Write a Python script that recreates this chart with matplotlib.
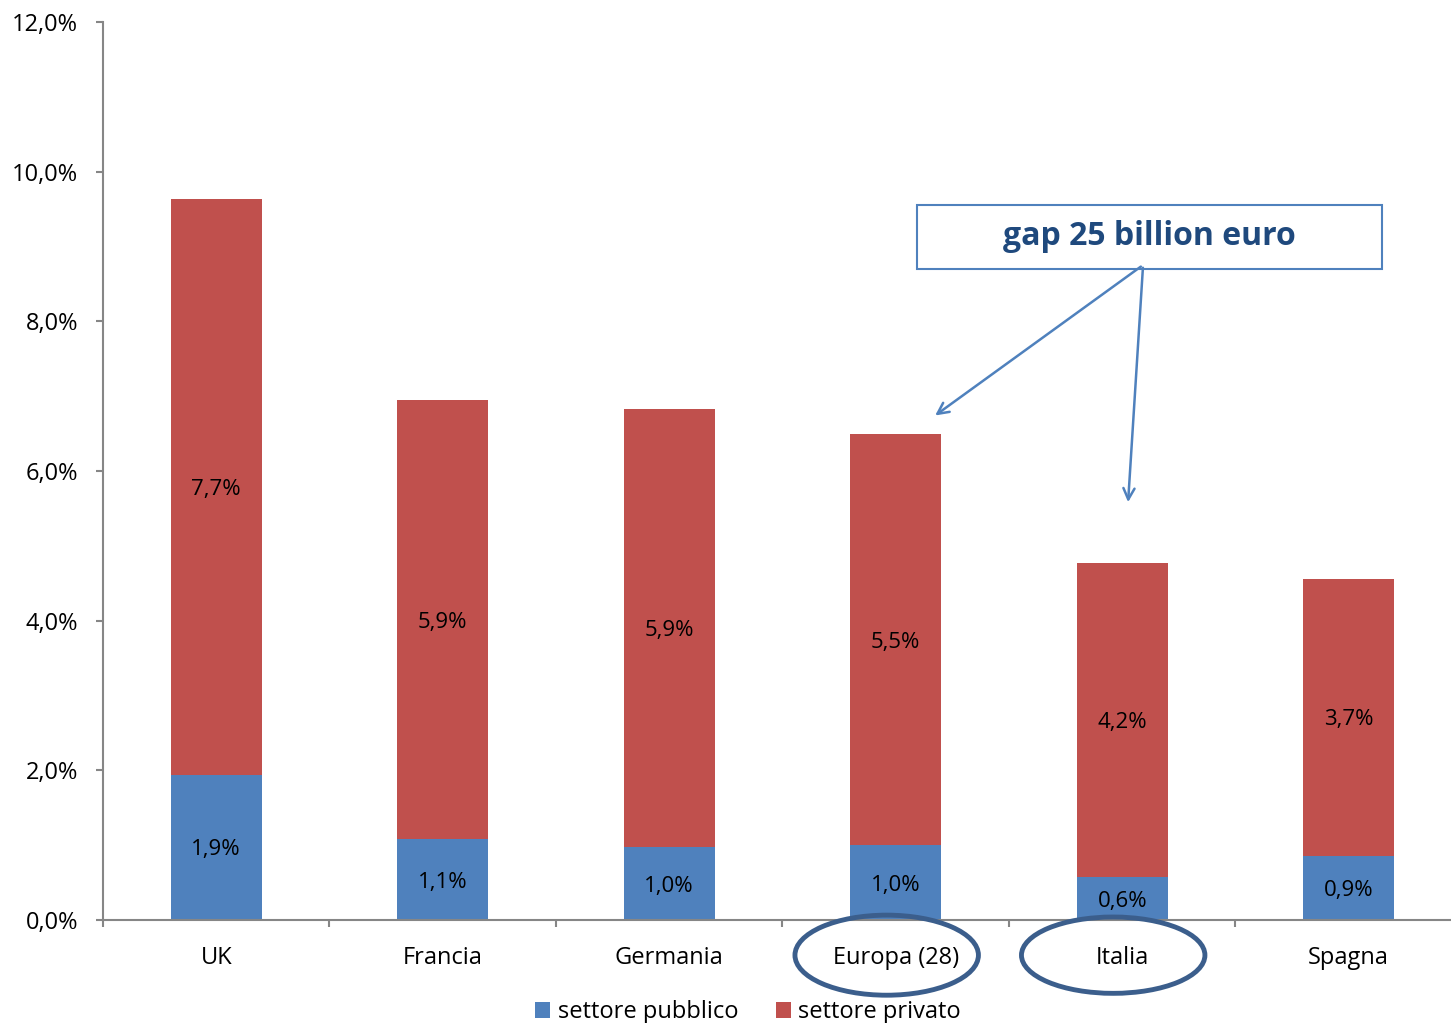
import matplotlib.pyplot as plt
from matplotlib.patches import Ellipse, Rectangle

plt.rcParams['font.family'] = ['Open Sans', 'DejaVu Sans']

paesi = ["UK", "Francia", "Germania", "Europa (28)", "Italia", "Spagna"]
pubblico = [1.94, 1.08, 0.97, 1.0, 0.57, 0.86]
privato = [7.69, 5.87, 5.86, 5.49, 4.2, 3.7]
etichette_pub = ["1,9%", "1,1%", "1,0%", "1,0%", "0,6%", "0,9%"]
etichette_priv = ["7,7%", "5,9%", "5,9%", "5,5%", "4,2%", "3,7%"]

blu = "#4F81BD"
rosso = "#C0504D"
grigio = "#868686"

fig = plt.figure(figsize=(14.51, 10.23), dpi=100)
ax = fig.add_axes([103 / 1451, 1 - 920 / 1023, 1359 / 1451, 898 / 1023])

x = range(len(paesi))
ax.bar(x, pubblico, width=0.4, color=blu, label="settore pubblico")
ax.bar(x, privato, width=0.4, bottom=pubblico, color=rosso, label="settore privato")

# etichette dentro le barre
for i in x:
    ax.text(i, pubblico[i] / 2, etichette_pub[i], ha="center",
            va="center_baseline", fontsize=16)
    ax.text(i, pubblico[i] + privato[i] / 2, etichette_priv[i], ha="center",
            va="center_baseline", fontsize=16)

ax.set_xlim(-0.5, 5.5)
ax.set_ylim(0, 12)
ax.set_yticks(range(0, 13, 2))
ax.set_yticklabels([f"{v},0%" for v in range(0, 13, 2)], fontsize=17)
ax.set_xticks([i - 0.5 for i in x])
ax.set_xticklabels([])
ax.set_xticks(list(x), minor=True)
ax.set_xticklabels(paesi, minor=True, fontsize=17)
ax.tick_params(axis="x", which="minor", length=0, pad=19)
ax.tick_params(axis="x", which="major", length=5, color=grigio, width=1.5)
ax.tick_params(axis="y", length=5, color=grigio, width=1.5, pad=13)
for s in ["top", "right"]:
    ax.spines[s].set_visible(False)
for s in ["left", "bottom"]:
    ax.spines[s].set_color(grigio)
    ax.spines[s].set_linewidth(1.5)

# cerchi su Europa e Italia
for cx, w, h in [(2.96, 0.81, 1.07), (3.96, 0.81, 1.02)]:
    ax.add_patch(Ellipse((cx, -0.47), w, h, fill=False, edgecolor="#3B5E8C",
                         linewidth=3.5, clip_on=False, zorder=5))

# box e frecce
ax.add_patch(Rectangle((3.094, 8.70), 2.053, 0.855, fill=False, edgecolor=blu,
                       linewidth=1.5, clip_on=False))
ax.text(4.12, 9.13, "gap 25 billion euro", ha="center", va="center",
        fontsize=23, fontweight="bold", color="#1F497D")
for tx, ty in [(3.164, 6.72), (4.025, 5.546)]:
    ax.annotate("", xy=(tx, ty), xytext=(4.092, 8.753),
                arrowprops=dict(arrowstyle="->,head_length=0.8,head_width=0.4",
                                color=blu, lw=1.8))

fig.legend(loc="lower center", bbox_to_anchor=(748 / 1451, -0.022), ncol=2,
           frameon=False, fontsize=17, handlelength=0.65, handleheight=0.65,
           handletextpad=0.3, columnspacing=1.6)

fig.savefig("out.png", dpi=100)
